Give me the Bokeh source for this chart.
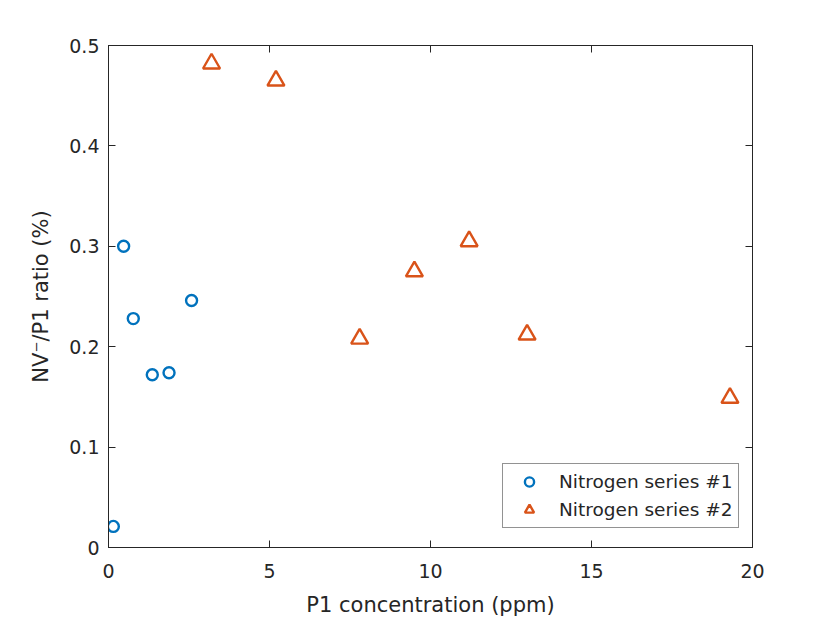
from bokeh.plotting import figure
from bokeh.models import LinearAxis, FixedTicker, Range1d, Legend, LegendItem
from bokeh.embed import file_html
from bokeh.resources import INLINE

# Data
s1_x = [0.15, 0.47, 0.77, 1.36, 1.88, 2.58]
s1_y = [0.021, 0.300, 0.228, 0.172, 0.174, 0.246]
s2_x = [3.2, 5.2, 7.8, 9.5, 11.2, 13.0, 19.3]
s2_y = [0.482, 0.465, 0.208, 0.275, 0.305, 0.212, 0.149]

x_ticks = [0, 5, 10, 15, 20]
y_ticks = [0, 0.1, 0.2, 0.3, 0.4, 0.5]
y_tick_labels = {0: "0", 0.1: "0.1", 0.2: "0.2", 0.3: "0.3", 0.4: "0.4", 0.5: "0.5"}

FONT = "DejaVu Sans"
AX = "#262626"
BLUE = "#0072BD"
ORANGE = "#D95319"

p = figure(width=822, height=619, output_backend="svg", toolbar_location=None,
           x_range=Range1d(0, 20), y_range=Range1d(0, 0.5),
           min_border_left=108, min_border_right=70, min_border_top=45, min_border_bottom=72)
p.xgrid.visible = False
p.ygrid.visible = False
p.outline_line_color = AX
p.outline_line_width = 1
p.background_fill_color = "white"
p.border_fill_color = "white"

for ax in (p.xaxis[0], p.yaxis[0]):
    ax.axis_line_color = AX
    ax.major_tick_line_color = AX
    ax.major_tick_in = 7
    ax.major_tick_out = 0
    ax.minor_tick_line_color = None
    ax.major_label_text_font = FONT
    ax.major_label_text_font_size = "19px"
    ax.major_label_text_color = AX
    ax.axis_label_text_font = FONT
    ax.axis_label_text_font_size = "21px"
    ax.axis_label_text_font_style = "normal"
    ax.axis_label_text_color = AX

p.xaxis[0].ticker = FixedTicker(ticks=x_ticks)
p.yaxis[0].ticker = FixedTicker(ticks=y_ticks)
p.yaxis[0].major_label_overrides = y_tick_labels
p.xaxis[0].axis_label = "P1 concentration (ppm)"
p.yaxis[0].axis_label = "NV\u207b/P1 ratio (%)"
p.xaxis[0].major_label_standoff = 16
p.yaxis[0].major_label_standoff = 9
p.xaxis[0].axis_label_standoff = 12
p.yaxis[0].axis_label_standoff = 13

blank_x = {t: "" for t in x_ticks}
blank_y = {t: "" for t in y_ticks}
top = LinearAxis(ticker=FixedTicker(ticks=x_ticks), major_label_overrides=blank_x,
                 axis_line_color=AX, major_tick_line_color=AX, major_tick_in=7,
                 major_tick_out=0, minor_tick_line_color=None, major_label_standoff=0)
right = LinearAxis(ticker=FixedTicker(ticks=y_ticks), major_label_overrides=blank_y,
                   axis_line_color=AX, major_tick_line_color=AX, major_tick_in=7,
                   major_tick_out=0, minor_tick_line_color=None, major_label_standoff=0)
p.add_layout(top, "above")
p.add_layout(right, "right")

r1 = p.scatter(s1_x, s1_y, marker="circle", size=11, fill_color=None,
               line_color=BLUE, line_width=2.4)
r2 = p.scatter(s2_x, s2_y, marker="triangle", size=17, fill_color=None,
               line_color=ORANGE, line_width=2.4)

legend = Legend(items=[LegendItem(label="Nitrogen series #1", renderers=[r1]),
                       LegendItem(label="Nitrogen series #2", renderers=[r2])],
                location=(394, 19), orientation="vertical")
legend.label_text_font = FONT
legend.label_text_font_size = "18.5px"
legend.label_text_color = AX
legend.border_line_color = AX
legend.border_line_width = 1
legend.padding = 6
legend.spacing = 5
legend.margin = 0
legend.glyph_width = 40
legend.glyph_height = 23
legend.label_height = 23
legend.label_standoff = 10
legend.background_fill_alpha = 1
p.add_layout(legend, "center")

open("out.html", "w").write(file_html(p, INLINE))
